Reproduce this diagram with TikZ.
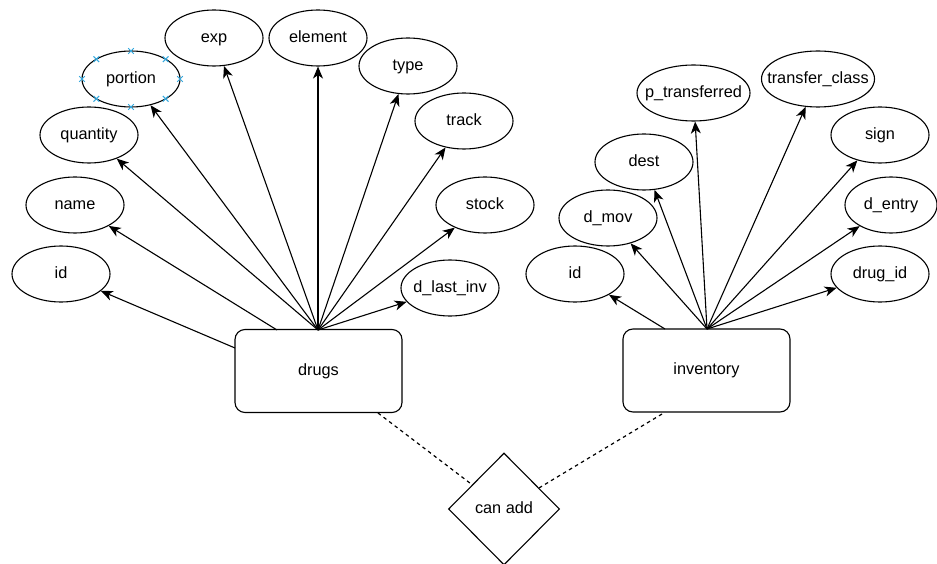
\documentclass[tikz,border=0pt]{standalone}
\usepackage{fontspec}
\setmainfont{Liberation Sans}
\usetikzlibrary{shapes.geometric,arrows.meta,calc}
\definecolor{selblue}{RGB}{52,168,222}
\newcommand{\zw}[1]{\makebox[0pt]{#1}}
\tikzset{
  attr/.style={draw=black,line width=1.1pt,ellipse,minimum width=98pt,minimum height=56pt,inner sep=0pt,text height=11.7pt,text depth=3.4pt,font=\fontsize{16.3}{19}\selectfont},
  wideattr/.style={attr,minimum width=113pt},
  entity/.style={draw=black,line width=1.1pt,rounded corners=10pt,minimum width=167pt,minimum height=83pt,inner sep=0pt,text height=11.7pt,text depth=3.4pt,font=\fontsize{16.3}{19}\selectfont},
  rel/.style={draw=black,line width=1.1pt,diamond,aspect=1,minimum width=111pt,minimum height=112pt,inner sep=0pt,text height=11.7pt,text depth=3.4pt,font=\fontsize{16.3}{19}\selectfont},
  link/.style={draw=black,line width=1.1pt,-{Stealth[length=12pt,width=10pt,inset=3.5pt]}},
  dlink/.style={draw=black,line width=1.2pt,dash pattern=on 3.5pt off 3.5pt},
  selmark/.style={selblue,line width=1pt}
}
\begin{document}
\begin{tikzpicture}[x=1pt,y=-1pt]
\useasboundingbox (0,0) rectangle (937,564);
% entities
\node[entity] (drugs) at (318.5,371) {drugs};
\node[entity] (inv) at (706.5,370.5) {inventory};
\node[rel] (canadd) at (504,509) {\zw{can add}};
% left attributes
\node[attr] (portion) at (131,79) {\zw{portion}};
\node[attr] (exp) at (214,38) {\zw{exp}};
\node[attr] (element) at (318,38) {\zw{element}};
\node[attr] (type) at (408,66) {\zw{type}};
\node[attr] (track) at (464,121) {\zw{track}};
\node[attr] (stock) at (485,205) {\zw{stock}};
\node[attr] (dlast) at (450,288) {\zw{d\_last\_inv}};
\node[attr] (quantity) at (89,135) {\zw{quantity}};
\node[attr] (name) at (75,205) {\zw{name}};
\node[attr] (lid) at (61,274) {\zw{id}};
% right attributes
\node[attr] (rid) at (575,274) {\zw{id}};
\node[attr] (dmov) at (608,218) {\zw{d\_mov}};
\node[attr] (dest) at (644,162) {\zw{dest}};
\node[wideattr] (ptrans) at (693.5,93) {\zw{p\_transferred}};
\node[wideattr] (tclass) at (818,79) {\zw{transfer\_class}};
\node[attr] (sign) at (880,135) {\zw{sign}};
\node[attr,minimum width=92pt] (dentry) at (891,205) {\zw{d\_entry}};
\node[attr] (drugid) at (880,274) {\zw{drug\_id}};
% connector origins
\coordinate (o1) at (318,330);
\coordinate (o1id) at (235,348);
\coordinate (o1name) at (277,330);
\coordinate (o2) at (707,329);
\coordinate (o2id) at (665,329);
\coordinate (d1) at (378,413);
\coordinate (d2) at (662,414);
% left connectors
\foreach \t in {portion,exp,element,type,track,stock,dlast,quantity}
  \draw[link] (o1) -- (\t);
\draw[link] (o1name) -- (name);
\draw[link] (o1id) -- (lid);
% right connectors
\foreach \t in {dmov,dest,ptrans,tclass,sign,dentry,drugid}
  \draw[link] (o2) -- (\t);
\draw[link] (o2id) -- (rid);
% relationship
\draw[dlink] (d1) -- (canadd);
\draw[dlink] (d2) -- (canadd);
% selection marks on portion
\foreach \a in {0,45,...,315}
  \draw[selmark]
    ($(portion.center)+({49*cos(\a)},{-28*sin(\a)})$) ++(-2.8,-2.8) -- ++(5.6,5.6)
    ++(-5.6,0) -- ++(5.6,-5.6);
\end{tikzpicture}
\end{document}
